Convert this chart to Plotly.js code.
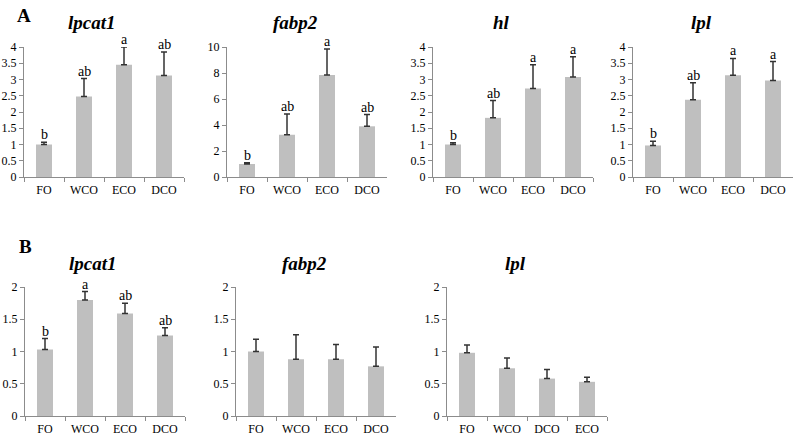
<!DOCTYPE html>
<html>
<head>
<meta charset="utf-8">
<script src="https://cdn.plot.ly/plotly-3.0.1.min.js"></script>
<style>html,body{margin:0;padding:0;background:#fff;}#chart{width:793px;height:437px;}</style>
</head>
<body>
<div id="chart"></div>
<script>
// ---- data ----
const groups = ['FO', 'WCO', 'ECO', 'DCO'];
const groupsLplB = ['FO', 'WCO', 'DCO', 'ECO'];

const lpcat1A = [1.0, 2.48, 3.45, 3.12];
const lpcat1AErr = [0.07, 0.55, 0.55, 0.73];
const lpcat1ALetters = ['b', 'ab', 'a', 'ab'];

const fabp2A = [1.0, 3.25, 7.85, 3.9];
const fabp2AErr = [0.1, 1.6, 2.0, 0.9];
const fabp2ALetters = ['b', 'ab', 'a', 'ab'];

const hlA = [1.0, 1.82, 2.72, 3.08];
const hlAErr = [0.05, 0.53, 0.73, 0.62];
const hlALetters = ['b', 'ab', 'a', 'a'];

const lplA = [0.97, 2.38, 3.13, 2.97];
const lplAErr = [0.13, 0.52, 0.52, 0.58];
const lplALetters = ['b', 'ab', 'a', 'a'];

const lpcat1B = [1.03, 1.8, 1.59, 1.25];
const lpcat1BErr = [0.17, 0.13, 0.16, 0.12];
const lpcat1BLetters = ['b', 'a', 'ab', 'ab'];

const fabp2B = [1.0, 0.88, 0.88, 0.77];
const fabp2BErr = [0.19, 0.38, 0.23, 0.3];

const lplB = [0.98, 0.74, 0.58, 0.53];
const lplBErr = [0.12, 0.16, 0.14, 0.07];

const titles = ['lpcat1', 'fabp2', 'hl', 'lpl', 'lpcat1', 'fabp2', 'lpl'];
const yMax = [4, 10, 4, 4, 2, 2, 2];
const yStep = [0.5, 2, 0.5, 0.5, 0.5, 0.5, 0.5];

const series = [
  {cats: groups, vals: lpcat1A, err: lpcat1AErr, letters: lpcat1ALetters},
  {cats: groups, vals: fabp2A, err: fabp2AErr, letters: fabp2ALetters},
  {cats: groups, vals: hlA, err: hlAErr, letters: hlALetters},
  {cats: groups, vals: lplA, err: lplAErr, letters: lplALetters},
  {cats: groups, vals: lpcat1B, err: lpcat1BErr, letters: lpcat1BLetters},
  {cats: groups, vals: fabp2B, err: fabp2BErr, letters: null},
  {cats: groupsLplB, vals: lplB, err: lplBErr, letters: null}
];

// ---- layout geometry (pixels) ----
const W = 793, H = 437;
const boxes = [
  {x0: 24, x1: 184, y0: 47, y1: 177, ty: 23},
  {x0: 227, x1: 387, y0: 47, y1: 177, ty: 23},
  {x0: 433, x1: 593, y0: 47, y1: 177, ty: 23},
  {x0: 633, x1: 793, y0: 47, y1: 177, ty: 23},
  {x0: 25, x1: 185, y0: 287, y1: 416, ty: 263},
  {x0: 236, x1: 396, y0: 287, y1: 416, ty: 263},
  {x0: 447, x1: 607, y0: 287, y1: 416, ty: 263}
];

const serif = 'Liberation Serif, Times New Roman, serif';
const axisColor = '#8c8c8c';
const traces = [];
const layout = {
  width: W, height: H,
  margin: {l: 0, r: 0, t: 0, b: 0},
  paper_bgcolor: '#fff', plot_bgcolor: '#fff',
  showlegend: false,
  font: {family: serif, color: '#000', size: 12},
  annotations: []
};

series.forEach((s, i) => {
  const n = i === 0 ? '' : String(i + 1);
  const b = boxes[i];
  traces.push({
    type: 'bar',
    x: s.cats, y: s.vals,
    xaxis: 'x' + n, yaxis: 'y' + n,
    width: 0.4,
    marker: {color: '#bfbfbf'},
    error_y: {type: 'data', array: s.err, symmetric: false, arrayminus: s.err.map(() => 0),
              color: '#333333', thickness: 1.5, width: 3},
    hoverinfo: 'skip'
  });
  layout['xaxis' + n] = {
    domain: [b.x0 / W, b.x1 / W], anchor: 'y' + n,
    type: 'category', range: [-0.5, 3.5],
    showline: true, linecolor: axisColor, linewidth: 1,
    ticks: 'outside', tickson: 'boundaries', ticklen: 4, tickcolor: axisColor,
    ticklabelstandoff: 2,
    showgrid: false, zeroline: false, fixedrange: true,
    tickfont: {family: serif, size: 12, color: '#000'}
  };
  layout['yaxis' + n] = {
    domain: [1 - b.y1 / H, 1 - b.y0 / H], anchor: 'x' + n,
    range: [0, yMax[i]], dtick: yStep[i], tick0: 0,
    showline: true, linecolor: axisColor, linewidth: 1,
    ticks: 'outside', ticklen: 4, tickcolor: axisColor,
    showgrid: false, zeroline: false, fixedrange: true,
    tickfont: {family: serif, size: 12, color: '#000'}
  };
  // title
  layout.annotations.push({
    xref: 'paper', yref: 'paper',
    x: ((b.x0 + b.x1) / 2 - 12) / W, y: 1 - b.ty / H,
    xanchor: 'center', yanchor: 'middle', showarrow: false,
    text: '<b><i>' + titles[i] + '</i></b>',
    font: {family: serif, size: 19, color: '#000'}
  });
  // significance letters
  if (s.letters) {
    s.letters.forEach((L, k) => {
      layout.annotations.push({
        xref: 'x' + n, yref: 'y' + n,
        x: s.cats[k], y: s.vals[k] + s.err[k],
        xanchor: 'center', yanchor: 'bottom', yshift: -2, showarrow: false,
        text: L, font: {family: serif, size: 14, color: '#000'}
      });
    });
  }
});

// panel letters
layout.annotations.push({xref: 'paper', yref: 'paper', x: 24 / W, y: 1 - 15 / H,
  xanchor: 'center', yanchor: 'middle', showarrow: false,
  text: '<b>A</b>', font: {family: serif, size: 19, color: '#000'}});
layout.annotations.push({xref: 'paper', yref: 'paper', x: 25 / W, y: 1 - 247 / H,
  xanchor: 'center', yanchor: 'middle', showarrow: false,
  text: '<b>B</b>', font: {family: serif, size: 19, color: '#000'}});

Plotly.newPlot('chart', traces, layout, {displayModeBar: false, staticPlot: true});
</script>
</body>
</html>
